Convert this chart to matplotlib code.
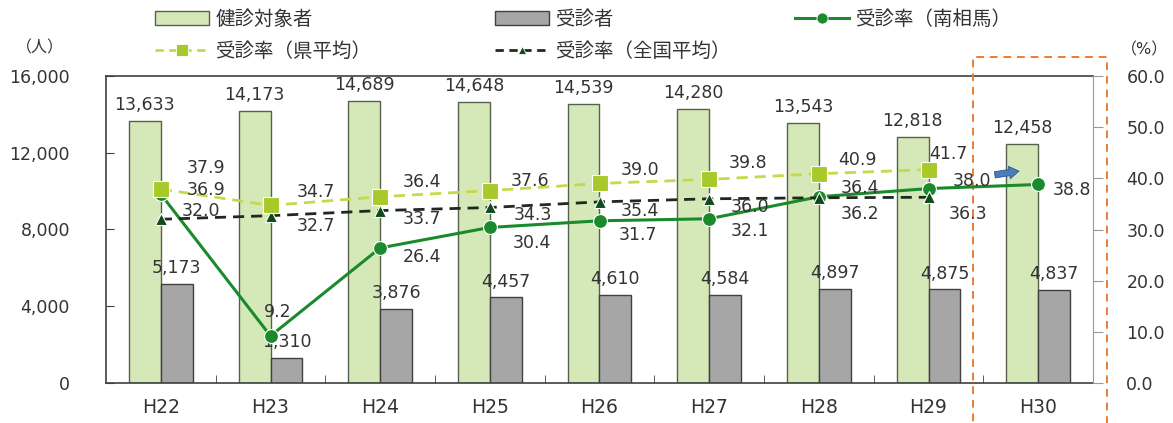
import numpy as np
import matplotlib
matplotlib.use("Agg")
import matplotlib.pyplot as plt
import matplotlib.patches as patches
from matplotlib.lines import Line2D
from matplotlib.ticker import FuncFormatter, MultipleLocator

plt.rcParams['font.family'] = ['DejaVu Sans', 'Noto Sans CJK JP']

# data
years = ['H22', 'H23', 'H24', 'H25', 'H26', 'H27', 'H28', 'H29', 'H30']
targets = [13633, 14173, 14689, 14648, 14539, 14280, 13543, 12818, 12458]
examined = [5173, 1310, 3876, 4457, 4610, 4584, 4897, 4875, 4837]
rate_city = [36.9, 9.2, 26.4, 30.4, 31.7, 32.1, 36.4, 38.0, 38.8]
rate_pref = [37.9, 34.7, 36.4, 37.6, 39.0, 39.8, 40.9, 41.7]
rate_nation = [32.0, 32.7, 33.7, 34.3, 35.4, 36.0, 36.2, 36.3]

# label offsets in pixels (dx, dy)
off_city = [(45, 4), (7, 24), (42, -9), (42, -16), (38, -14), (41, -12), (41, 9), (43, 8), (34, -6)]
off_pref = [(45, 21), (45, 13), (42, 15), (40, 10), (40, 13), (39, 16), (39, 14), (20, 16)]
off_nation = [(40, 8), (45, -10), (42, -8), (43, -8), (40, -9), (41, -8), (41, -16), (39, -17)]

C_TARGET = '#d5e9b8'
C_EXAM = '#a6a6a6'
C_CITY = '#1b8a2c'
C_PREF = '#a8c92a'
C_NATION = '#1f2a1f'
TXT = '#333333'

fig = plt.figure(figsize=(11.73, 4.23), dpi=100)
W, H = 1173, 423
ax = fig.add_axes([106 / W, 1 - 383 / H, (1093 - 106) / W, (383 - 76) / H])
ax2 = ax.twinx()

x = np.arange(len(years))
bw = 0.29
b1 = ax.bar(x - bw / 2, targets, bw, color=C_TARGET, edgecolor='#56604c', linewidth=1, zorder=2)
b2 = ax.bar(x + bw / 2, examined, bw, color=C_EXAM, edgecolor='#404040', linewidth=1, zorder=2)
ax.bar_label(b1, labels=[f'{v:,}' for v in targets], padding=5, fontsize=12.5, color=TXT)
ax.bar_label(b2, labels=[f'{v:,}' for v in examined], padding=5, fontsize=12.5, color=TXT)

ax.set_xlim(-0.5, len(years) - 0.5)
ax.set_ylim(0, 16000)
ax.yaxis.set_major_locator(MultipleLocator(4000))
ax.yaxis.set_major_formatter(FuncFormatter(lambda v, p: f'{int(v):,}'))
ax.tick_params(axis='y', direction='in', length=6, pad=26, labelsize=12.5, labelcolor=TXT, color='#404040')
ax.set_xticks(x)
ax.set_xticklabels(years)
ax.tick_params(axis='x', length=0, pad=11, labelsize=13.5, labelcolor=TXT)
ax.set_xticks(np.arange(0.5, len(years) - 1, 1), minor=True)
ax.tick_params(axis='x', which='minor', direction='in', length=6, color='#404040')
for s in ['left', 'bottom', 'top']:
    ax.spines[s].set_color('#404040')
    ax.spines[s].set_linewidth(1.2)
ax.spines['right'].set_visible(False)

ax2.set_ylim(0, 60)
ax2.yaxis.set_major_locator(MultipleLocator(10))
ax2.yaxis.set_major_formatter(FuncFormatter(lambda v, p: f'{v:.1f}'))
ax2.tick_params(axis='y', direction='out', length=7, pad=17, labelsize=12.5, labelcolor=TXT, color='#999999')
for s in ['left', 'bottom', 'top']:
    ax2.spines[s].set_visible(False)
ax2.spines['right'].set_color('#999999')

xp = x[:len(rate_pref)]
ax2.plot(x, rate_city, color=C_CITY, lw=2.2, marker='o', ms=10,
         mfc=C_CITY, mec='white', mew=0.8, zorder=3)
ax2.plot(xp, rate_nation, color=C_NATION, ls=(0, (4, 2.5)), lw=2, marker='^', ms=8,
         mfc='#0e4a1a', mec='white', mew=0.8, zorder=4)
ax2.plot(xp, rate_pref, color='#c8d84a', ls=(0, (4, 2.5)), lw=2, marker='s', ms=11,
         mfc=C_PREF, mec='white', mew=0.8, zorder=5)

for vals, offs in [(rate_pref, off_pref), (rate_nation, off_nation), (rate_city, off_city)]:
    for i, (v, o) in enumerate(zip(vals, offs)):
        ax2.annotate(f'{v:.1f}', (x[i], v), xytext=o, textcoords='offset pixels',
                     ha='center', va='center', fontsize=12.5, color=TXT, zorder=6)

# highlight box around H30 and arrow
box = patches.Rectangle((7.41, -0.2), 1.22, 1.262, transform=ax.get_xaxis_transform(),
                        fill=False, edgecolor='#ed7d31', lw=1.4, ls=(0, (4, 3)), clip_on=False, zorder=7)
ax.add_patch(box)
ax2.annotate('', xy=(7.85, 41.5), xytext=(7.58, 40.6),
             arrowprops=dict(arrowstyle='simple,head_width=0.9,head_length=0.7,tail_width=0.45',
                             fc='#4a7ebb', ec='#2f5597', lw=0.6), zorder=7)

fig.text(40 / W, 1 - 48 / H, '（人）', ha='center', va='center', fontsize=11.5, color=TXT)
fig.text(1145 / W, 1 - 50 / H, '（%）', ha='center', va='center', fontsize=11.5, color=TXT)

# legends
h_target = patches.Patch(facecolor=C_TARGET, edgecolor='#56604c', lw=1)
h_exam = patches.Patch(facecolor=C_EXAM, edgecolor='#404040', lw=1)
h_city = Line2D([], [], color=C_CITY, lw=2.2, marker='o', ms=8, mec='white', mew=0.6)
h_pref = Line2D([], [], color='#c8d84a', ls=(0, (3, 2)), lw=2, marker='s', ms=8, mfc=C_PREF, mec='white', mew=0.6)
h_nation = Line2D([], [], color=C_NATION, ls=(0, (3, 2)), lw=2, marker='^', ms=6, mfc='#0e4a1a', mec='white', mew=0.6)

leg_kw = dict(loc='upper left', frameon=False, fontsize=14, borderpad=0, borderaxespad=0,
              handlelength=2.8, handletextpad=0.3, labelspacing=0.65)
for hs, ls, xpix in [([h_target, h_pref], ['健診対象者', '受診率（県平均）'], 155),
                     ([h_exam, h_nation], ['受診者', '受診率（全国平均）'], 495),
                     ([h_city], ['受診率（南相馬）'], 795)]:
    lg = fig.legend(hs, ls, bbox_to_anchor=(xpix / W, 1 - 10 / H), **leg_kw)
    for t in lg.get_texts():
        t.set_color(TXT)

fig.savefig('out.png', dpi=100)
